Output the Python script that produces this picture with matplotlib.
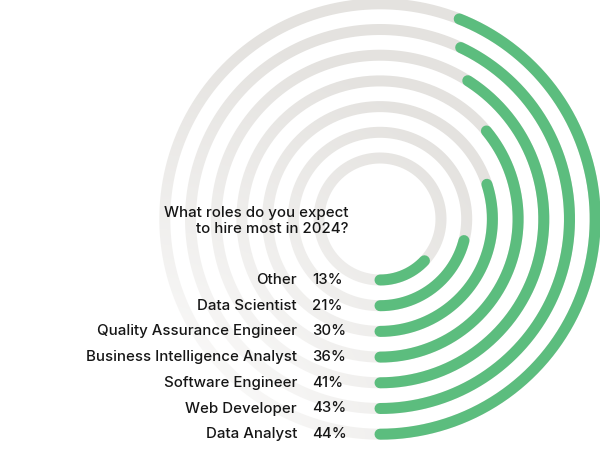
import numpy as np
import matplotlib
matplotlib.use("Agg")
import matplotlib.pyplot as plt

roles = ["Other", "Data Scientist", "Quality Assurance Engineer",
         "Business Intelligence Analyst", "Software Engineer",
         "Web Developer", "Data Analyst"]
shares = [13, 21, 30, 36, 41, 43, 44]
title = "What roles do you expect\nto hire most in 2024?"

GREEN = "#5cbd7e"
TRACK = "#e4e2df"
INK = "#161616"

W, H = 600, 458
fig = plt.figure(figsize=(W / 100, H / 100), dpi=100)
ax = fig.add_axes([0, 0, 1, 1])
ax.set_xlim(0, W)
ax.set_ylim(H, 0)
ax.set_aspect("equal")
ax.axis("off")

cx, cy = 380, 219
r0, dr = 61, 25.7
lw = 11 * 72 / 100  # ring thickness in points
fs = 10.8

def arc(r, frac, n=400):
    # start at 6 o'clock and sweep toward 3 o'clock (counterclockwise on screen)
    t = np.linspace(0, 2 * np.pi * frac, n)
    x = cx + r * np.sin(t)
    y = cy + r * np.cos(t)
    return x, y

for i, (name, v) in enumerate(zip(roles, shares)):
    r = r0 + i * dr
    x, y = arc(r, 1.0)
    ax.plot(x, y, color=TRACK, lw=lw, solid_capstyle="butt", zorder=1)

# white haze fading the tracks toward the lower left
yy, xx = np.mgrid[0:H, 0:W]
d = np.hypot(xx - 140, yy - 470)
alpha = np.clip(1.05 - d / 430, 0, 0.85)
haze = np.ones((H, W, 4))
haze[..., 3] = alpha
ax.imshow(haze, extent=(0, W, H, 0), zorder=2, interpolation="bilinear")
ax.set_xlim(0, W)
ax.set_ylim(H, 0)

for i, (name, v) in enumerate(zip(roles, shares)):
    r = r0 + i * dr
    x, y = arc(r, v / 100)
    ax.plot(x, y, color=GREEN, lw=lw, solid_capstyle="round", zorder=3)
    ly = cy + r
    ax.text(297, ly, name, ha="right", va="center", fontsize=fs,
            family="Inter", weight="medium", color=INK, zorder=4)
    ax.text(312, ly, f"{v}%", ha="left", va="center", fontsize=fs,
            family="Inter", weight="medium", color=INK, zorder=4)

ax.text(349, 221, title, ha="right", va="center", fontsize=fs,
        family="Inter", weight="medium", color=INK, linespacing=1.2,
        multialignment="right", zorder=4)

fig.savefig("out.png", dpi=100, facecolor="white")
